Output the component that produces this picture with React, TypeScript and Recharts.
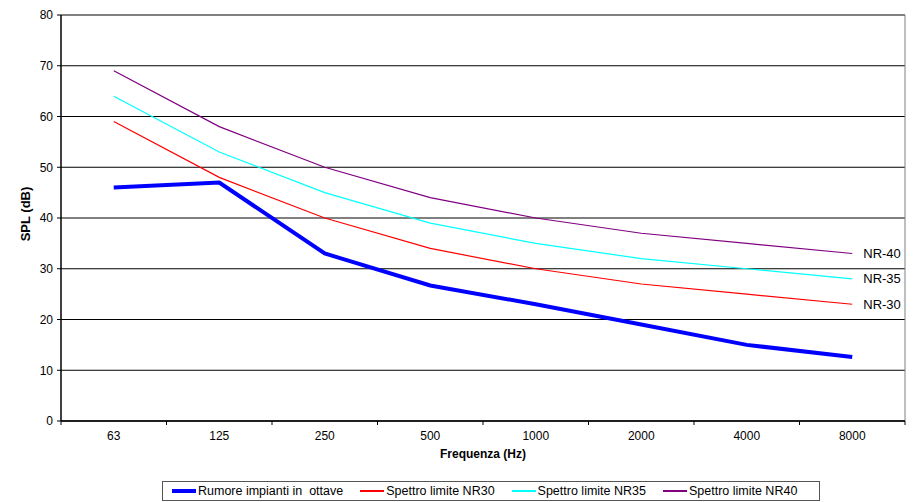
import React from "react";
import {
  LineChart,
  Line,
  XAxis,
  YAxis,
  CartesianGrid,
} from "recharts";

// Octave band centre frequencies (Hz)
const frequencies = ["63", "125", "250", "500", "1000", "2000", "4000", "8000"];

// Measured plant noise, octave bands (dB)
const rumore = [46, 47, 33, 26.7, 23, 19, 15, 12.6];

// NR limit curves (dB)
const nr30 = [59, 48, 40, 34, 30, 27, 25, 23];
const nr35 = [64, 53, 45, 39, 35, 32, 30, 28];
const nr40 = [69, 58, 50, 44, 40, 37, 35, 33];

const yTicks = [0, 10, 20, 30, 40, 50, 60, 70, 80];

const series = [
  { key: "rumore", name: "Rumore impianti in  ottave", color: "#0000FF", width: 4, tag: "" },
  { key: "nr30", name: "Spettro limite NR30", color: "#FF0000", width: 1.2, tag: "NR-30" },
  { key: "nr35", name: "Spettro limite NR35", color: "#00FFFF", width: 1.2, tag: "NR-35" },
  { key: "nr40", name: "Spettro limite NR40", color: "#800080", width: 1.2, tag: "NR-40" },
];

const data = frequencies.map((f, i) => ({
  freq: f,
  rumore: rumore[i],
  nr30: nr30[i],
  nr35: nr35[i],
  nr40: nr40[i],
}));

const WIDTH = 914;
const HEIGHT = 502;
const MARGIN = { top: 15, right: 9, left: 21, bottom: 31 };
const Y_AXIS_W = 40;
const X_AXIS_H = 50;
const PLOT_W = WIDTH - MARGIN.left - MARGIN.right - Y_AXIS_W;
const PLOT_RIGHT = WIDTH - MARGIN.right;
const BAND = PLOT_W / frequencies.length;

const FONT = "Arial, 'Liberation Sans', sans-serif";

// category label plus Excel-style tick marks on the band boundaries
function FreqTick(props: any) {
  const { x, y, payload, index } = props;
  const left = x - BAND / 2;
  const right = x + BAND / 2;
  return (
    <g>
      <line x1={left} y1={y} x2={left} y2={y + 4} stroke="#000" />
      {index === frequencies.length - 1 && (
        <line x1={right} y1={y} x2={right} y2={y + 4} stroke="#000" />
      )}
      <text x={x} y={y + 19} textAnchor="middle" fontSize={12} fill="#000" fontFamily={FONT}>
        {payload.value}
      </text>
    </g>
  );
}

function endLabel(tag: string) {
  return (props: any) => {
    const { x, y, index } = props;
    if (!tag || index !== frequencies.length - 1) return null;
    return (
      <text x={x + 11} y={y} dy="0.35em" fontSize={13} fill="#000" fontFamily={FONT}>
        {tag}
      </text>
    );
  };
}

function LegendBox() {
  return (
    <div
      style={{
        position: "absolute",
        left: 162,
        top: 481,
        width: 656,
        height: 18,
        border: "1px solid #555",
        display: "flex",
        alignItems: "center",
        fontFamily: FONT,
        fontSize: 12.5,
        color: "#000",
        boxSizing: "content-box",
      }}
    >
      {series.map((s, i) => (
        <div
          key={s.key}
          style={{ display: "flex", alignItems: "center", marginLeft: i === 0 ? 9 : 17 }}
        >
          <div
            style={{
              width: 24,
              height: s.width > 2 ? 4 : 1.5,
              background: s.color,
              marginRight: 2,
            }}
          />
          <span style={{ whiteSpace: "pre" }}>{s.name}</span>
        </div>
      ))}
    </div>
  );
}

export default function App() {
  return (
    <div style={{ position: "absolute", left: 0, top: 0, width: WIDTH, height: HEIGHT, background: "#fff" }}>
      <LineChart width={WIDTH} height={HEIGHT} data={data} margin={MARGIN}>
        <CartesianGrid vertical={false} stroke="#000" strokeWidth={1} />
        {/* grey right edge of the plot frame */}
        <CartesianGrid horizontal={false} verticalPoints={[PLOT_RIGHT]} stroke="#808080" strokeWidth={1} />
        <XAxis
          dataKey="freq"
          height={X_AXIS_H}
          padding={{ left: BAND / 2, right: BAND / 2 }}
          tickLine={false}
          tickSize={0}
          tickMargin={0}
          axisLine={{ stroke: "#000", strokeWidth: 1.5 }}
          tick={<FreqTick />}
          interval={0}
          label={{
            content: ({ viewBox }: any) => (
              <text
                x={viewBox.x + viewBox.width / 2}
                y={viewBox.y + 37}
                textAnchor="middle"
                fontSize={12}
                fontWeight="bold"
                fontFamily={FONT}
                fill="#000"
              >
                Frequenza (Hz)
              </text>
            ),
          }}
        />
        <YAxis
          width={Y_AXIS_W}
          domain={[0, 80]}
          ticks={yTicks}
          interval={0}
          tickSize={4}
          tickMargin={4}
          tickLine={{ stroke: "#000" }}
          axisLine={{ stroke: "#000", strokeWidth: 1.5 }}
          tick={{ fontSize: 12, fill: "#000", fontFamily: FONT }}
          label={{
            content: ({ viewBox }: any) => {
              const cx = 25;
              const cy = viewBox.y + viewBox.height / 2 - 4;
              return (
                <text
                  x={cx}
                  y={cy}
                  transform={`rotate(-90 ${cx} ${cy})`}
                  textAnchor="middle"
                  dominantBaseline="central"
                  fontSize={13}
                  fontWeight="bold"
                  fontFamily={FONT}
                  fill="#000"
                >
                  SPL (dB)
                </text>
              );
            },
          }}
        />
        {series.map((s) => (
          <Line
            key={s.key}
            type="linear"
            dataKey={s.key}
            name={s.name}
            stroke={s.color}
            strokeWidth={s.width}
            dot={false}
            activeDot={false}
            isAnimationActive={false}
            label={endLabel(s.tag)}
          />
        ))}
      </LineChart>
      <LegendBox />
    </div>
  );
}
